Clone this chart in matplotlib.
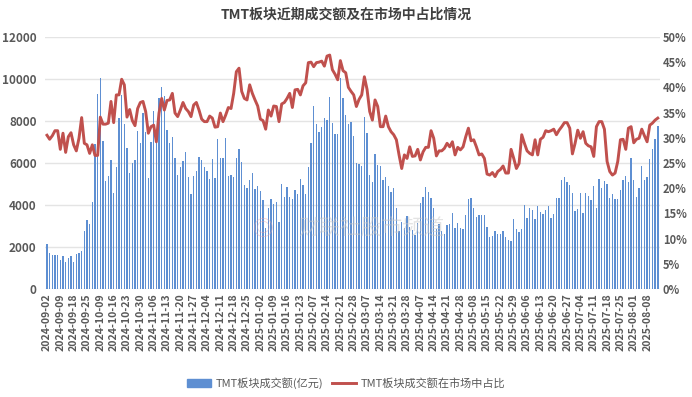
import matplotlib
matplotlib.use("Agg")
import matplotlib.pyplot as plt
from matplotlib.ticker import FuncFormatter
from matplotlib.lines import Line2D
from matplotlib.patches import Patch
import numpy as np
import pandas as pd

plt.rcParams['font.family'] = ['Noto Sans CJK SC', 'DejaVu Sans']

# trading days (A-share calendar, holidays removed)
holidays = ["2024-09-16", "2024-09-17", "2024-10-01", "2024-10-02", "2024-10-03",
            "2024-10-04", "2024-10-07", "2025-01-01", "2025-01-28", "2025-01-29",
            "2025-01-30", "2025-01-31", "2025-02-03", "2025-02-04", "2025-04-04",
            "2025-05-01", "2025-05-02", "2025-05-05", "2025-06-02"]
days = pd.bdate_range("2024-09-02", "2025-08-14")
days = days[~days.isin(pd.to_datetime(holidays))]
dates = [d.strftime("%Y-%m-%d") for d in days]

# TMT turnover (100m yuan)
turnover = [
    2150, 1700, 1620, 1620, 1620, 1380, 1570, 1290, 1480, 1570, 1290, 1670, 1700, 1810, 2760, 3270, 3110, 4140, 6900, 9280,
    10050, 7060, 5140, 5380, 6140, 4570, 5810, 8140, 9240, 7840, 6700, 5540, 5980, 6140, 7520, 6940, 8380, 7490, 5270, 7000,
    8470, 7300, 9110, 9630, 9190, 7570, 6940, 7220, 6220, 5430, 5820, 6090, 6510, 5350, 4520, 5400, 5620, 6280, 6140, 5790,
    5600, 5250, 6170, 5280, 7160, 6220, 6220, 7190, 5380, 5410, 5350, 6240, 6680, 6030, 4970, 4820, 5190, 5540, 4750, 4900,
    4680, 4240, 2890, 3840, 4270, 4050, 4160, 3170, 5000, 4400, 4870, 4400, 4270, 4710, 4520, 5220, 4950, 4520, 5820, 6970,
    8710, 7860, 7490, 7730, 8140, 8050, 9130, 7890, 7380, 7380, 10060, 9110, 8280, 7840, 7970, 7280, 5980, 5950, 5870, 8170,
    7410, 5430, 5090, 6430, 5900, 5870, 5190, 5350, 4900, 4600, 4810, 3840, 2750, 3190, 2900, 3480, 2970, 2810, 2570, 3160,
    4110, 4400, 4840, 4600, 4320, 3860, 2840, 3090, 2760, 2620, 3050, 3080, 3630, 2900, 3130, 2890, 2870, 3520, 4290, 4350,
    3840, 3410, 3520, 3540, 3540, 2940, 2480, 2510, 2750, 2620, 2600, 2750, 2460, 2320, 2290, 3320, 2860, 2730, 2860, 3980,
    3380, 3860, 3750, 3350, 3970, 3650, 3570, 3760, 3940, 3360, 3590, 4320, 4350, 5190, 5330, 5090, 4950, 4550, 3710, 3790,
    4550, 3600, 4550, 4430, 4240, 4900, 3840, 5220, 4820, 5140, 5000, 4330, 4510, 4270, 4300, 4710, 5170, 5380, 5110, 6250,
    5170, 4360, 4790, 5860, 5190, 5350, 6190, 6670, 7130, 7760,
]

# share of whole market turnover (%)
share = [
    30.5, 29.7, 30.4, 31.4, 31.4, 27.7, 30.9, 27.1, 30.2, 31.0, 28.6, 27.4, 29.9, 34.0, 28.9, 28.6, 26.9, 28.6, 26.5, 26.5,
    34.1, 32.7, 32.7, 32.9, 37.2, 33.0, 38.5, 38.5, 41.6, 40.5, 34.1, 35.6, 33.4, 32.4, 35.8, 37.0, 37.2, 35.2, 30.9, 32.2,
    32.5, 29.2, 34.9, 37.8, 35.5, 37.4, 37.5, 38.8, 34.9, 34.2, 35.5, 37.0, 35.8, 35.2, 34.2, 36.5, 37.0, 35.5, 33.7, 33.2,
    33.2, 34.3, 33.9, 32.1, 32.2, 34.9, 33.2, 34.5, 36.0, 35.8, 38.8, 43.1, 43.8, 39.2, 37.8, 37.5, 40.5, 38.8, 37.5, 36.3,
    33.7, 33.4, 31.7, 35.5, 34.3, 36.3, 36.2, 33.2, 36.7, 37.0, 37.8, 38.8, 36.0, 39.5, 39.6, 38.5, 40.3, 40.9, 44.9, 45.0,
    44.1, 44.9, 45.0, 45.2, 44.2, 46.2, 46.4, 43.5, 42.6, 41.5, 45.3, 43.3, 42.9, 40.0, 39.2, 38.5, 36.2, 37.6, 38.5, 42.1,
    39.6, 35.2, 33.5, 37.5, 36.2, 32.2, 32.2, 34.3, 32.2, 31.2, 30.6, 29.6, 26.6, 23.9, 26.6, 25.9, 28.2, 26.3, 26.4, 27.7,
    25.6, 27.2, 28.1, 28.1, 31.4, 29.9, 26.4, 27.4, 27.4, 27.9, 28.9, 28.2, 29.2, 26.6, 28.1, 27.6, 28.2, 30.2, 31.9, 29.4,
    29.6, 28.2, 26.6, 26.8, 25.9, 22.8, 22.6, 23.1, 22.3, 23.3, 23.7, 24.4, 23.0, 23.0, 27.7, 25.9, 23.9, 24.9, 30.6, 28.9,
    27.4, 26.9, 26.6, 29.6, 26.6, 29.7, 30.1, 31.4, 31.2, 31.4, 31.7, 30.6, 31.5, 32.2, 33.0, 33.0, 31.9, 26.8, 28.9, 31.5,
    29.9, 31.2, 28.9, 28.4, 28.2, 26.3, 32.2, 33.2, 33.2, 31.7, 25.3, 23.3, 22.6, 23.0, 25.3, 29.6, 29.7, 27.7, 31.9, 32.2,
    29.0, 29.7, 29.9, 31.7, 30.4, 29.2, 32.5, 32.9, 33.5, 33.9,
]

bar_color = "#5E8FD2"
line_color = "#C0504D"
text_color = "#595959"

x = np.arange(len(dates))

fig = plt.figure(figsize=(6.92, 3.97), dpi=100)
ax = fig.add_axes([0.065, 0.272, 0.889, 0.635])
ax2 = ax.twinx()

ax.bar(x, turnover, width=0.55, color=bar_color, zorder=2)
ax2.plot(x, np.array(share) / 100, color=line_color, lw=2.1, zorder=3)

ax.set_xlim(-0.75, len(dates) - 0.1)
ax.set_ylim(0, 12000)
ax.set_yticks(range(0, 12001, 2000))
ax2.set_ylim(0, 0.5)
ax2.set_yticks(np.arange(0, 0.501, 0.05))
ax2.yaxis.set_major_formatter(FuncFormatter(lambda v, p: f"{v * 100:.0f}%"))

ax.set_xticks(x[::5])
ax.set_xticklabels(dates[::5], rotation=90)

ax.grid(axis="y", color="#E4E4E4", lw=1, zorder=0)
ax.set_axisbelow(True)
for a in (ax, ax2):
    for s in a.spines.values():
        s.set_visible(False)
    a.tick_params(length=0, colors=text_color)
ax.tick_params(axis="y", pad=6)
ax2.tick_params(axis="y", pad=2)
for lab in ax.get_yticklabels():
    lab.set_fontsize(8.5)
    lab.set_fontweight("bold")
for lab in ax2.get_yticklabels():
    lab.set_fontsize(8)
    lab.set_fontweight("bold")
for lab in ax.get_xticklabels():
    lab.set_fontsize(7.6)
    lab.set_fontweight("bold")
ax.tick_params(axis="x", pad=3)

# watermark
ax2.text(0.53, 0.24, "财联社股市频道", transform=ax.transAxes, fontsize=15,
         color="#C8C8C8", alpha=0.5, ha="center", va="center", zorder=5)
ax2.text(0.355, 0.24, "◎", transform=ax.transAxes, fontsize=15,
         color="#E8A0A8", alpha=0.5, ha="center", va="center", zorder=5)

fig.text(0.5, 0.962, "TMT板块近期成交额及在市场中占比情况", ha="center", va="center",
         fontsize=10, fontweight="bold", color="#404040")

handles = [Patch(color=bar_color), Line2D([0], [0], color=line_color, lw=2.1)]
fig.legend(handles, ["TMT板块成交额(亿元)", "TMT板块成交额在市场中占比"],
           loc="center", bbox_to_anchor=(0.5, 0.035), ncol=2, frameon=False,
           fontsize=8, labelcolor=text_color, handlelength=2.2, columnspacing=0.8,
           handletextpad=0.4)

fig.savefig("out.png", dpi=100)
